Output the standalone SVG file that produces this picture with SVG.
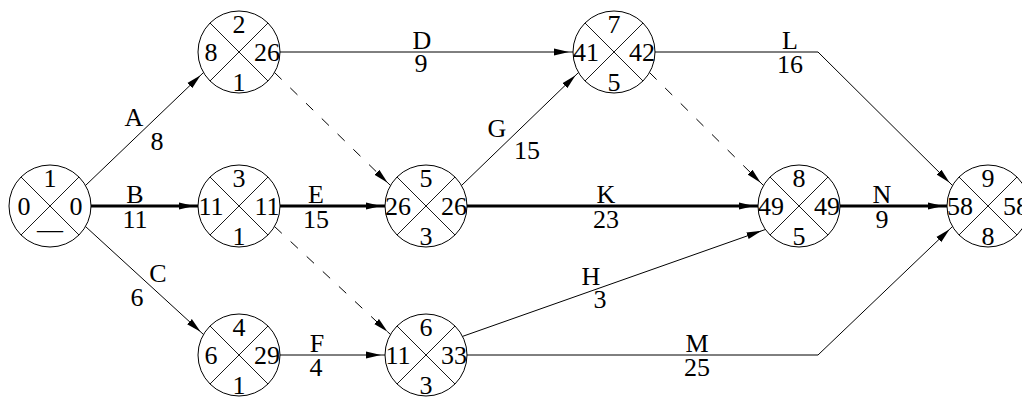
<svg xmlns="http://www.w3.org/2000/svg" width="1022" height="397" viewBox="0 0 1022 397">
<style>
.c{fill:#fff;stroke:#000;stroke-width:1}
.x{stroke:#000;stroke-width:0.9}
text{font-family:"Liberation Serif","Times New Roman",serif;font-size:26px;fill:#000;text-anchor:middle}
.e{fill:none;stroke:#000;stroke-width:1}
.t{fill:none;stroke:#000;stroke-width:3}
.d{fill:none;stroke:#000;stroke-width:1;stroke-dasharray:10 12}
</style>
<defs>
<marker id="ah" markerUnits="userSpaceOnUse" viewBox="0 0 20 10" markerWidth="20" markerHeight="10" refX="19" refY="5" orient="auto">
<path d="M0,1.5 L15,5 L0,8.5 z" fill="#000"/>
</marker>
<g id="xmark">
<line class="x" x1="-29" y1="-29" x2="29" y2="29"/>
<line class="x" x1="-29" y1="29" x2="29" y2="-29"/>
</g>
</defs>
<rect width="1022" height="397" fill="#fff"/>
<g id="connectors">
<line class="e" x1="85.5" y1="185.5" x2="203.5" y2="72.5" marker-end="url(#ah)"/>
<line class="t" x1="91" y1="206" x2="198" y2="206" marker-end="url(#ah)"/>
<line class="e" x1="85.5" y1="226.5" x2="203.5" y2="334.5" marker-end="url(#ah)"/>
<line class="e" x1="280" y1="52" x2="573" y2="52" marker-end="url(#ah)"/>
<line class="t" x1="280" y1="206" x2="385" y2="206" marker-end="url(#ah)"/>
<line class="e" x1="280" y1="355" x2="385" y2="355" marker-end="url(#ah)"/>
<line class="d" x1="274.5" y1="72.5" x2="390.5" y2="185.5" marker-end="url(#ah)"/>
<line class="d" x1="274.5" y1="226.5" x2="390.5" y2="334.5" marker-end="url(#ah)"/>
<line class="e" x1="461.5" y1="185.5" x2="578.5" y2="72.5" marker-end="url(#ah)"/>
<line class="t" x1="467" y1="206" x2="758" y2="206" marker-end="url(#ah)"/>
<line class="e" x1="462.5" y1="336.4" x2="765.4" y2="229.5" marker-end="url(#ah)"/>
<polyline class="e" points="467,355 818,355 952.5,226.5" marker-end="url(#ah)"/>
<polyline class="e" points="655,52 818,52 952.5,185.5" marker-end="url(#ah)"/>
<line class="d" x1="649.5" y1="72.5" x2="763.5" y2="185.5" marker-end="url(#ah)"/>
<line class="t" x1="840" y1="206" x2="947" y2="206" marker-end="url(#ah)"/>
</g>
<g id="labels">
<text x="134" y="126">A</text><text x="157" y="150">8</text>
<text x="135" y="203">B</text><text x="135" y="228">11</text>
<text x="158" y="282">C</text><text x="137" y="306">6</text>
<text x="422" y="49">D</text><text x="421" y="72">9</text>
<text x="316" y="203">E</text><text x="316" y="228">15</text>
<text x="317" y="352">F</text><text x="316" y="376">4</text>
<text x="497" y="137">G</text><text x="527" y="159">15</text>
<text x="606" y="203">K</text><text x="606" y="228">23</text>
<text x="591" y="285">H</text><text x="600" y="308">3</text>
<text x="790" y="49">L</text><text x="790" y="73">16</text>
<text x="697" y="352">M</text><text x="697" y="376">25</text>
<text x="882" y="203">N</text><text x="882" y="228">9</text>
</g>
<g id="n1" transform="translate(50,206)">
<circle class="c" r="41"/><use href="#xmark"/>
<text y="-19">1</text><text x="-26" y="9">0</text><text x="26" y="9">0</text><text y="32">—</text>
</g>
<g id="n2" transform="translate(239,52)">
<circle class="c" r="41"/><use href="#xmark"/>
<text y="-19">2</text><text x="-28" y="9">8</text><text x="28" y="9">26</text><text y="39">1</text>
</g>
<g id="n3" transform="translate(239,206)">
<circle class="c" r="41"/><use href="#xmark"/>
<text y="-19">3</text><text x="-28" y="9">11</text><text x="28" y="9">11</text><text y="39">1</text>
</g>
<g id="n4" transform="translate(239,355)">
<circle class="c" r="41"/><use href="#xmark"/>
<text y="-19">4</text><text x="-28" y="9">6</text><text x="28" y="9">29</text><text y="39">1</text>
</g>
<g id="n5" transform="translate(426,206)">
<circle class="c" r="41"/><use href="#xmark"/>
<text y="-19">5</text><text x="-28" y="9">26</text><text x="28" y="9">26</text><text y="39">3</text>
</g>
<g id="n6" transform="translate(426,355)">
<circle class="c" r="41"/><use href="#xmark"/>
<text y="-19">6</text><text x="-28" y="9">11</text><text x="28" y="9">33</text><text y="39">3</text>
</g>
<g id="n7" transform="translate(614,52)">
<circle class="c" r="41"/><use href="#xmark"/>
<text y="-19">7</text><text x="-28" y="9">41</text><text x="28" y="9">42</text><text y="39">5</text>
</g>
<g id="n8" transform="translate(799,206)">
<circle class="c" r="41"/><use href="#xmark"/>
<text y="-19">8</text><text x="-28" y="9">49</text><text x="28" y="9">49</text><text y="39">5</text>
</g>
<g id="n9" transform="translate(988,206)">
<circle class="c" r="41"/><use href="#xmark"/>
<text y="-19">9</text><text x="-28" y="9">58</text><text x="28" y="9">58</text><text y="39">8</text>
</g>
</svg>
